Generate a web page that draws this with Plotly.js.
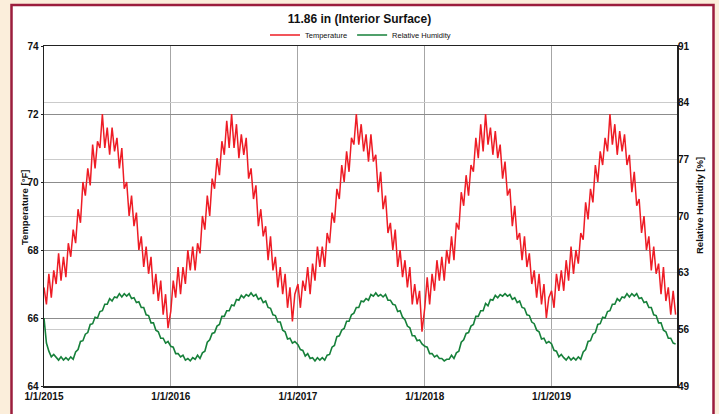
<!DOCTYPE html>
<html>
<head>
<meta charset="utf-8">
<script src="https://cdn.plot.ly/plotly-3.0.1.min.js"></script>
<style>
  html, body { margin: 0; padding: 0; background: #fbeedb; }
  #chart { width: 719px; height: 414px; }
</style>
</head>
<body>
<div id="chart"></div>
<script>
// ---- Data (weekly readings) ----
const years = [2015, 2016, 2017, 2018, 2019];
const tickLabels = ["1/1/2015", "1/1/2016", "1/1/2017", "1/1/2018", "1/1/2019"];
const tickDates = ["2015-01-01", "2016-01-01", "2017-01-01", "2018-01-01", "2019-01-01"];

// Temperature [°F], one value per week
const temp2015 = [66.9,66.4,67.3,66.6,67.4,67.0,67.9,67.1,67.8,67.2,68.2,67.8,68.6,68.2,69.2,68.8,70.0,69.6,70.4,69.9,71.1,70.4,71.2,71.0,72.0,71.0,71.6,70.8,71.6,70.9,71.3,70.4,71.0,69.8,70.0,69.0,69.6,68.7,69.1,68.0,68.4,67.5,68.1,67.3,67.8,66.7,67.3,66.5,67.1,66.1,66.7,65.7];
const temp2016 = [66.2,67.1,66.6,67.5,66.7,67.5,67.0,68.0,67.4,68.1,67.4,68.2,67.9,69.0,68.6,69.6,69.0,70.1,69.8,70.7,70.2,71.2,70.8,71.8,71.0,72.0,71.0,71.7,70.7,71.4,70.8,71.3,70.1,70.4,69.5,69.9,68.7,69.2,68.4,68.7,67.7,68.4,67.4,67.8,66.9,67.5,66.7,67.3,66.3,66.9,65.9,66.7];
const temp2017 = [67.0,66.3,67.1,66.8,67.5,66.7,67.6,67.1,68.1,67.5,68.1,67.5,68.5,68.2,69.1,68.8,69.8,69.5,70.5,70.0,70.9,70.3,71.3,71.1,72.0,71.1,71.7,70.9,71.4,70.6,71.4,70.6,70.8,69.7,70.3,69.2,69.6,68.5,68.8,68.0,68.6,67.5,68.0,67.2,67.7,66.9,67.5,66.4,67.0,66.4,66.8,65.6];
const temp2018 = [66.3,67.2,66.4,67.3,66.8,67.7,67.1,67.8,67.1,68.0,67.6,68.4,67.7,68.8,68.6,69.7,69.3,70.2,69.6,70.5,70.3,71.3,70.7,71.7,70.9,72.0,71.1,71.6,70.8,71.5,70.7,71.1,70.1,70.6,69.6,69.8,68.7,69.3,68.3,68.5,67.7,68.4,67.5,67.9,67.0,67.4,66.6,67.3,66.4,67.0,66.0,66.6];
const temp2019 = [66.8,66.3,67.3,66.8,67.4,66.8,67.7,67.1,68.1,67.3,68.0,67.6,68.5,68.3,69.4,68.9,69.8,69.4,70.5,70.0,70.9,70.5,71.3,70.9,72.0,71.1,71.7,70.8,71.5,70.9,71.4,70.5,70.8,69.7,70.3,69.3,69.5,68.5,69.0,68.0,68.4,67.4,68.1,67.3,67.6,66.7,67.5,66.5,66.9,66.1,66.8,66.1];

// Relative humidity [%], one value per week
const rh2015 = [57.4,54.3,53.3,52.6,52.9,52.5,52.2,52.6,52.2,52.5,52.2,52.6,52.3,53.2,53.5,54.5,54.6,55.4,55.6,56.6,56.7,57.5,57.4,58.2,58.3,59.1,59.1,59.8,59.5,60.0,59.9,60.4,60.0,60.4,60.1,60.4,59.8,59.9,59.3,59.4,58.7,58.7,57.8,57.7,56.8,56.8,55.9,55.7,54.9,54.9,54.3,54.5];
const rh2016 = [53.9,53.8,53.0,53.0,52.6,52.8,52.2,52.4,52.1,52.5,52.3,52.8,52.4,53.1,53.3,54.4,54.7,55.5,55.6,56.4,56.6,57.6,57.6,58.3,58.3,59.0,58.9,59.7,59.6,60.2,59.9,60.3,60.1,60.5,60.1,60.3,59.7,59.9,59.3,59.5,58.7,58.6,57.8,57.7,56.9,56.9,55.9,55.7,54.8,54.9,54.3,54.5];
const rh2017 = [54.1,53.5,53.4,52.7,53.0,52.4,52.5,52.1,52.5,52.2,52.5,52.2,52.8,52.9,53.8,54.0,55.1,55.2,55.9,56.1,57.0,57.0,57.8,58.0,58.7,58.7,59.5,59.4,59.8,59.6,60.3,60.1,60.5,60.1,60.3,60.0,60.3,59.6,59.6,59.1,59.0,58.2,58.3,57.5,57.2,56.4,56.2,55.2,55.2,54.6,54.7,54.2];
const rh2018 = [53.9,53.8,53.0,53.0,52.6,52.8,52.4,52.4,52.1,52.3,52.3,52.8,52.4,53.1,53.3,54.4,54.7,55.5,55.6,56.4,56.6,57.6,57.6,58.3,58.3,59.2,58.9,59.7,59.6,60.2,59.9,60.3,60.1,60.4,60.1,60.3,59.7,59.9,59.3,59.5,58.7,58.6,57.8,57.7,56.9,56.7,55.9,55.7,54.8,54.9,54.3,54.5];
const rh2019 = [54.2,53.4,53.3,52.6,52.9,52.5,52.2,52.6,52.2,52.5,52.2,52.6,52.3,53.2,53.5,54.5,54.6,55.4,55.6,56.6,56.7,57.5,57.4,58.2,58.3,59.1,59.1,59.8,59.5,60.0,59.9,60.4,60.0,60.4,60.1,60.4,59.8,59.9,59.3,59.4,58.7,58.7,57.8,57.7,56.8,56.8,55.9,55.7,54.9,54.9,54.3,54.2];

// ---- Build the weekly time axis ----
function weeklyDates(year, n) {
  const out = [];
  for (let i = 0; i < n; i++) {
    const d = new Date(Date.UTC(year, 0, 1 + 7 * i));
    out.push(d.toISOString().slice(0, 10));
  }
  return out;
}
const tempYears = [temp2015, temp2016, temp2017, temp2018, temp2019];
const rhYears = [rh2015, rh2016, rh2017, rh2018, rh2019];
let dates = [], temp = [], rh = [];
years.forEach((y, k) => {
  dates = dates.concat(weeklyDates(y, tempYears[k].length));
  temp = temp.concat(tempYears[k]);
  rh = rh.concat(rhYears[k]);
});

const FONT = "Liberation Sans, Arial, Helvetica, sans-serif";
const RED = "#ee1c25";
const GREEN = "#16803a";

const traces = [
  { x: dates, y: temp, type: "scatter", mode: "lines", name: "Temperature",
    line: { color: RED, width: 1.5 }, yaxis: "y" },
  { x: dates, y: rh, type: "scatter", mode: "lines", name: "Relative Humidity",
    line: { color: GREEN, width: 1.6 }, yaxis: "y2" }
];

// plot area geometry (pixels) for panel shape
const L = 44, R = 42, T = 46, B = 28, W = 719, H = 414;
const pw = W - L - R, ph = H - T - B;
const px = v => (v - L) / pw;
const py = v => (H - B - v) / ph;

const layout = {
  width: W, height: H,
  margin: { l: L, r: R, t: T, b: B, pad: 0 },
  paper_bgcolor: "#fbeedb",
  plot_bgcolor: "#ffffff",
  font: { family: FONT, color: "#111" },
  showlegend: true,
  title: { text: "11.86 in (Interior Surface)", font: { family: FONT, size: 12, weight: "bold", color: "#111" },
           x: 0.5, xanchor: "center", y: 1 - 19 / H, yanchor: "middle", yref: "container" },
  legend: { orientation: "h", x: 0.5, xanchor: "center", y: py(35), yanchor: "middle",
            font: { family: FONT, size: 7.5, color: "#111" }, bgcolor: "rgba(0,0,0,0)",
            itemwidth: 30, tracegroupgap: 0 },
  xaxis: {
    type: "date", range: ["2015-01-01", "2019-12-28"],
    tickmode: "array", tickvals: tickDates, ticktext: tickLabels,
    ticks: "", showgrid: true, gridcolor: "#a6a6a6", gridwidth: 1,
    showline: true, linecolor: "#222", linewidth: 1.5, mirror: true,
    tickfont: { family: FONT, size: 10, weight: "bold", color: "#111" },
    zeroline: false, fixedrange: true
  },
  yaxis: {
    range: [64, 74], tickvals: [64, 66, 68, 70, 72, 74],
    ticks: "outside", ticklen: 2, tickcolor: "#222",
    showgrid: true, gridcolor: "#8c8c8c", gridwidth: 1,
    showline: true, linecolor: "#222", linewidth: 1.5, mirror: true,
    tickfont: { family: FONT, size: 10, weight: "bold", color: "#111" },
    zeroline: false
  },
  yaxis2: {
    range: [49, 91], tickvals: [49, 56, 63, 70, 77, 84, 91],
    overlaying: "y", side: "right",
    ticks: "", showgrid: true, gridcolor: "#cbcbcb", gridwidth: 1,
    showline: false,
    tickfont: { family: FONT, size: 10, weight: "bold", color: "#111" },
    zeroline: false
  },
  shapes: [
    { type: "rect", xref: "paper", yref: "paper", layer: "below",
      x0: px(11.5), x1: px(713.5), y0: py(420), y1: py(5),
      fillcolor: "#ffffff", line: { color: "#9b1d3d", width: 2.5 } }
  ],
  annotations: [
    { text: "Temperature [°F]", xref: "paper", yref: "paper", x: px(24), y: py(208),
      xanchor: "center", yanchor: "middle", textangle: -90, showarrow: false,
      font: { family: FONT, size: 9.5, weight: "bold", color: "#111" } },
    { text: "Relative Humidity [%]", xref: "paper", yref: "paper", x: px(699), y: py(206),
      xanchor: "center", yanchor: "middle", textangle: -90, showarrow: false,
      font: { family: FONT, size: 9.5, weight: "bold", color: "#111" } }
  ]
};

Plotly.newPlot("chart", traces, layout, { displayModeBar: false, staticPlot: true });
</script>
</body>
</html>
